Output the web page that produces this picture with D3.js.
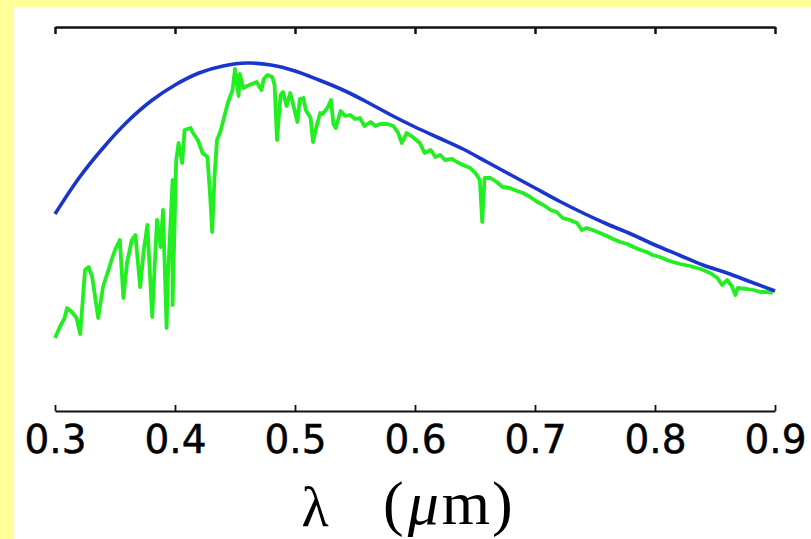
<!DOCTYPE html>
<html>
<head>
<meta charset="utf-8">
<script src="https://cdn.jsdelivr.net/npm/d3@7"></script>
<style>
  body { margin: 0; background: #ffff99; }
  svg { display: block; }
</style>
</head>
<body>
<svg id="chart" width="811" height="539"></svg>
<script>
// wavelength in micrometres, flux in arbitrary units
let ticks = [0.3, 0.4, 0.5, 0.6, 0.7, 0.8, 0.9];

let bbLambda = [0.30, 0.32, 0.34, 0.36, 0.38, 0.40, 0.42, 0.44, 0.46, 0.48, 0.50, 0.52, 0.54, 0.56, 0.58, 0.60,
    0.62, 0.64, 0.66, 0.68, 0.70, 0.72, 0.74, 0.76, 0.78, 0.80, 0.82, 0.84, 0.86, 0.88, 0.90];
let bbFlux = [1.97, 2.33, 2.63, 2.89, 3.10, 3.26, 3.38, 3.45, 3.48, 3.46, 3.40, 3.31, 3.21, 3.09, 2.96, 2.84,
    2.73, 2.62, 2.49, 2.36, 2.23, 2.10, 1.98, 1.87, 1.77, 1.66, 1.56, 1.46, 1.38, 1.29, 1.20];

let starLambda = [0.300, 0.304, 0.308, 0.310, 0.314, 0.318, 0.321, 0.325, 0.328, 0.331, 0.336, 0.340, 0.344, 0.348,
    0.350, 0.354, 0.357, 0.360, 0.364, 0.367, 0.371, 0.374, 0.377, 0.381, 0.385, 0.388, 0.390, 0.393, 0.394, 0.398,
    0.398, 0.401, 0.403, 0.406, 0.408, 0.413, 0.415, 0.419, 0.423, 0.427, 0.429, 0.431, 0.433, 0.435, 0.438, 0.441,
    0.444, 0.448, 0.450, 0.453, 0.454, 0.457, 0.460, 0.464, 0.468, 0.472, 0.474, 0.477, 0.481, 0.483, 0.485, 0.488,
    0.490, 0.493, 0.496, 0.498, 0.502, 0.504, 0.507, 0.509, 0.513, 0.515, 0.518, 0.521, 0.523, 0.527, 0.530, 0.532,
    0.534, 0.538, 0.542, 0.546, 0.550, 0.554, 0.558, 0.563, 0.567, 0.571, 0.577, 0.582, 0.586, 0.589, 0.593, 0.598,
    0.604, 0.608, 0.613, 0.617, 0.621, 0.625, 0.631, 0.635, 0.640, 0.646, 0.651, 0.654, 0.656, 0.658, 0.663, 0.668,
    0.673, 0.679, 0.685, 0.690, 0.696, 0.702, 0.707, 0.713, 0.718, 0.723, 0.729, 0.735, 0.739, 0.743, 0.748, 0.754,
    0.760, 0.765, 0.771, 0.777, 0.782, 0.788, 0.793, 0.798, 0.804, 0.810, 0.815, 0.821, 0.829, 0.838, 0.846, 0.852,
    0.856, 0.860, 0.864, 0.867, 0.869, 0.877, 0.882, 0.888, 0.893, 0.898];
let starFlux = [0.73, 0.84, 0.93, 1.03, 0.99, 0.93, 0.77, 1.41, 1.44, 1.34, 0.93, 1.24, 1.39, 1.54,
    1.61, 1.71, 1.13, 1.48, 1.71, 1.76, 1.24, 1.61, 1.86, 0.94, 1.91, 1.64, 2.01, 0.83, 1.31, 2.31,
    1.06, 2.51, 2.68, 2.48, 2.81, 2.83, 2.78, 2.71, 2.58, 2.54, 2.21, 1.79, 2.36, 2.71, 2.80, 2.94,
    3.08, 3.21, 3.42, 3.15, 3.37, 3.23, 3.25, 3.27, 3.29, 3.21, 3.32, 3.36, 3.34, 3.26, 2.71, 3.16,
    3.19, 3.05, 3.18, 3.09, 2.89, 3.12, 3.13, 3.01, 2.93, 2.69, 2.85, 2.98, 2.97, 3.03, 3.11, 2.87,
    2.83, 3.00, 2.95, 2.96, 2.92, 2.93, 2.85, 2.89, 2.85, 2.87, 2.87, 2.85, 2.78, 2.68, 2.78, 2.74,
    2.68, 2.58, 2.61, 2.54, 2.56, 2.51, 2.52, 2.49, 2.46, 2.43, 2.37, 2.31, 1.89, 2.33, 2.33, 2.29,
    2.24, 2.23, 2.20, 2.18, 2.14, 2.09, 2.06, 2.01, 1.99, 1.93, 1.91, 1.88, 1.81, 1.83, 1.81, 1.78,
    1.75, 1.72, 1.69, 1.67, 1.64, 1.61, 1.59, 1.56, 1.54, 1.51, 1.49, 1.47, 1.45, 1.42, 1.38, 1.33,
    1.26, 1.31, 1.25, 1.16, 1.23, 1.22, 1.21, 1.19, 1.19, 1.18];

let svg = d3.select('#chart');
let plotLeft = 55, plotRight = 775, plotTop = 27, plotBottom = 411;

svg.append('rect')
    .attr('x', 14).attr('y', 7)
    .attr('width', 811 - 14).attr('height', 539 - 7)
    .attr('fill', '#ffffff');

let x = d3.scaleLinear().domain([0.3, 0.9]).range([plotLeft, plotRight]);
let y = d3.scaleLinear().domain([0, 3.84]).range([plotBottom, plotTop]);

// top frame line, ticks pointing down
let topAxis = svg.append('g')
    .attr('transform', 'translate(0,' + plotTop + ')')
    .call(d3.axisTop(x).tickValues(ticks).tickSize(-7).tickSizeOuter(0).tickFormat(''));

// bottom axis, ticks pointing up
let bottomAxis = svg.append('g')
    .attr('transform', 'translate(0,' + plotBottom + ')')
    .call(d3.axisBottom(x).tickValues(ticks).tickSize(-6).tickSizeOuter(0).tickFormat(d3.format('.1f')));

topAxis.select('.domain').attr('stroke', '#111').attr('stroke-width', 2.5);
topAxis.selectAll('.tick line').attr('stroke', '#111').attr('stroke-width', 2.5);
bottomAxis.select('.domain').attr('stroke', '#111').attr('stroke-width', 1.8);
bottomAxis.selectAll('.tick line').attr('stroke', '#111').attr('stroke-width', 1.8);
bottomAxis.selectAll('.tick text')
    .attr('y', 14)
    .attr('fill', '#000')
    .attr('stroke', '#000')
    .attr('stroke-width', 0.5)
    .style('font-family', 'DejaVu Sans, sans-serif')
    .style('font-size', '39px');

let line = d3.line()
    .x(d => x(d[0]))
    .y(d => y(d[1]));

svg.append('path')
    .datum(d3.zip(starLambda, starFlux))
    .attr('fill', 'none')
    .attr('stroke', '#22ee22')
    .attr('stroke-width', 3.8)
    .attr('stroke-linejoin', 'round')
    .attr('d', line);

svg.append('path')
    .datum(d3.zip(bbLambda, bbFlux))
    .attr('fill', 'none')
    .attr('stroke', '#1a35cc')
    .attr('stroke-width', 3.6)
    .attr('d', line.curve(d3.curveCatmullRom));

// x-axis title
svg.append('text')
    .attr('x', 315).attr('y', 526)
    .attr('text-anchor', 'middle')
    .style('font-family', 'Liberation Serif, DejaVu Serif, serif')
    .style('font-size', '56px')
    .attr('fill', '#000')
    .text('λ');

let unit = svg.append('text')
    .attr('x', 383).attr('y', 524)
    .style('font-family', 'Liberation Serif, DejaVu Serif, serif')
    .style('font-size', '62px')
    .attr('fill', '#000');
unit.append('tspan').text('(');
unit.append('tspan').attr('dx', 4).style('font-style', 'italic').text('μ');
unit.append('tspan').attr('dx', 3).attr('textLength', 56).text('m');
unit.append('tspan').attr('dx', 2).text(')');
</script>
</body>
</html>
